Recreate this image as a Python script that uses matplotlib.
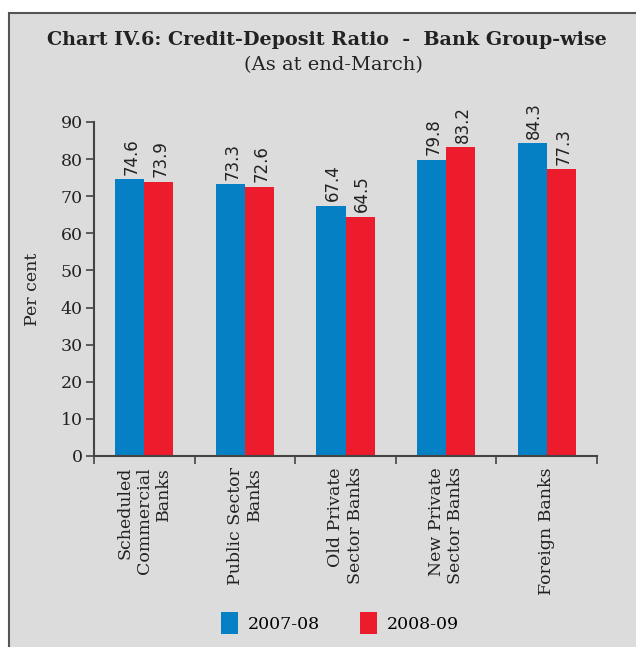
import matplotlib
matplotlib.use("Agg")
import matplotlib.pyplot as plt
from matplotlib.patches import Rectangle
import numpy as np

categories = ["Scheduled\nCommercial\nBanks", "Public Sector\nBanks", "Old Private\nSector Banks",
              "New Private\nSector Banks", "Foreign Banks"]
series_names = ["2007-08", "2008-09"]
values_0708 = [74.6, 73.3, 67.4, 79.8, 84.3]
values_0809 = [73.9, 72.6, 64.5, 83.2, 77.3]
yticks = [0, 10, 20, 30, 40, 50, 60, 70, 80, 90]

blue = "#0580C4"
red = "#EC1C2D"
bg = "#DCDCDC"
serif = "DejaVu Serif"

fig = plt.figure(figsize=(6.36, 6.47), dpi=100)
fig.patch.set_facecolor("white")
frame = Rectangle((8.5 / 636, -0.01), 1.0, 1 - 12.5 / 647 + 0.01, transform=fig.transFigure,
                  facecolor=bg, edgecolor="#555555", linewidth=1.5, zorder=-10)
fig.patches.append(frame)

ax = fig.add_axes([94 / 636, 1 - 456 / 647, (597 - 94) / 636, (456 - 122) / 647])
ax.set_facecolor(bg)
ax.patch.set_alpha(0)

x = np.arange(len(categories))
w = 0.29
b1 = ax.bar(x - w / 2, values_0708, w, color=blue, label=series_names[0])
b2 = ax.bar(x + w / 2, values_0809, w, color=red, label=series_names[1])

for bars, vals in ((b1, values_0708), (b2, values_0809)):
    for r, v in zip(bars, vals):
        ax.text(r.get_x() + r.get_width() / 2 + 0.02, v + 1.2, f"{v:.1f}", rotation=90,
                ha="center", va="bottom", fontsize=12, family="DejaVu Sans", color="#222222")

ax.set_xlim(-0.5, len(categories) - 0.5)
ax.set_ylim(0, 90)
ax.set_yticks(yticks)
ax.set_yticklabels([str(t) for t in yticks], family=serif, fontsize=12.5, color="#222222")
ax.set_xticks(x)
ax.set_xticklabels(categories, rotation=90, family=serif, fontsize=12.5, color="#222222",
                   ha="center", va="top", multialignment="right")
ax.tick_params(axis="x", which="major", length=0, pad=8)
ax.set_xticks(np.arange(-0.5, len(categories)), minor=True)
ax.tick_params(axis="x", which="minor", length=6, width=1.2, color="#444444", direction="out")
ax.tick_params(axis="y", length=6, width=1.2, color="#444444", direction="out", pad=2)

for s in ("top", "right"):
    ax.spines[s].set_visible(False)
for s in ("left", "bottom"):
    ax.spines[s].set_color("#444444")
    ax.spines[s].set_linewidth(1.5)

ax.set_ylabel("Per cent", family=serif, fontsize=12.5, color="#222222", labelpad=14)

fig.text(327 / 636, 1 - 40 / 647, "Chart IV.6: Credit-Deposit Ratio  -  Bank Group-wise",
         ha="center", va="center", family=serif, fontweight="bold", fontsize=13.8, color="#222222")
fig.text(333 / 636, 1 - 65 / 647, "(As at end-March)", ha="center", va="center",
         family=serif, fontsize=14, color="#222222")

leg = fig.legend(handles=[b1, b2], labels=series_names, loc="center", bbox_to_anchor=(340 / 636, 1 - 623 / 647),
                 ncol=2, frameon=False, prop={"family": serif, "size": 12.5}, handlelength=1.0,
                 handleheight=1.5, columnspacing=2.3, handletextpad=0.55)

fig.savefig("out.png", dpi=100)
